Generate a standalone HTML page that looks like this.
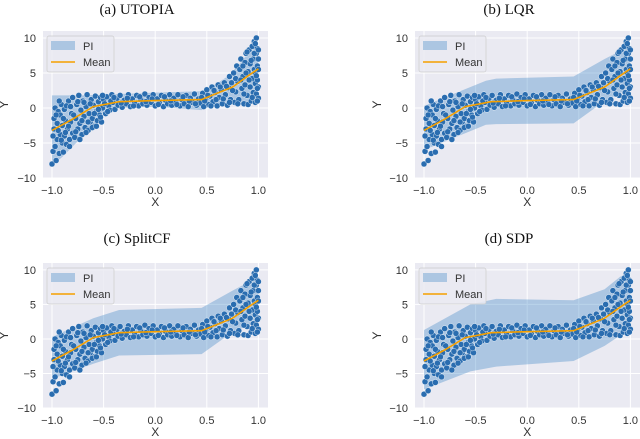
<!DOCTYPE html>
<html><head><meta charset="utf-8">
<style>
html,body{margin:0;padding:0;background:#fff;width:640px;height:439px;overflow:hidden}
svg{display:block}
.tk{font-family:"Liberation Sans",sans-serif;font-size:11px;fill:#333}
.ttl{font-family:"Liberation Serif",serif;font-size:15px;fill:#111}
</style></head>
<body>
<svg id="fig" width="640" height="439" viewBox="0 0 640 439" xmlns="http://www.w3.org/2000/svg"></svg>
<script>
// shared scatter data
const scatterX=[-1,-0.99,-0.98,-0.98,-0.97,-0.96,-0.95,-0.95,-0.94,-0.93,-0.92,-0.92,-0.91,-0.9,-0.9,-0.89,-0.88,-0.88,-0.87,-0.86,-0.85,-0.84,-0.83,-0.82,-0.81,-0.8,-0.8,
-0.78,-0.77,-0.76,-0.75,-0.74,-0.73,-0.72,-0.71,-0.7,-0.69,-0.68,-0.67,-0.66,-0.65,-0.64,-0.63,-0.62,-0.61,-0.6,-0.59,-0.58,-0.57,-0.56,-0.55,-0.54,-0.53,-0.52,-0.51,-0.5,
-0.48,-0.47,-0.45,-0.44,-0.42,-0.41,-0.39,-0.37,-0.36,-0.34,-0.32,-0.3,-0.28,-0.26,-0.24,-0.22,-0.2,-0.18,-0.16,-0.14,-0.12,-0.1,-0.08,-0.06,-0.04,-0.02,0,0.02,0.04,0.06,0.08,0.1,0.12,0.14,0.16,0.18,0.2,0.22,0.24,0.26,0.28,0.3,0.32,0.34,0.36,0.38,0.4,0.42,0.44,
0.46,0.47,0.49,0.5,0.52,0.53,0.55,0.56,0.58,0.6,0.61,0.62,0.64,0.65,0.67,0.68,0.7,0.71,0.72,0.73,0.74,
0.76,0.77,0.78,0.79,0.8,0.81,0.82,0.83,0.84,0.85,0.86,0.87,0.87,0.88,0.89,0.9,0.9,0.91,0.92,0.92,0.93,0.94,0.94,0.95,0.95,0.96,0.96,0.97,0.97,0.98,0.98,0.98,0.99,0.99,1,1,1,0.99,
-0.99,-0.97,-0.96,-0.94,-0.93,-0.91,-0.89,-0.87,-0.86,-0.84,-0.83,-0.82,-0.79,-0.77,-0.75,-0.73,-0.71,-0.69,-0.67,-0.65,-0.63,-0.61,-0.59,-0.57,-0.55,-0.53,-0.51,-0.49,-0.46,-0.43,
-0.4,-0.33,-0.27,-0.21,-0.15,-0.09,-0.03,0.03,0.09,0.15,0.21,0.27,0.33,0.39,0.45,
0.48,0.51,0.54,0.57,0.59,0.63,0.66,0.69,0.72,0.75,0.78,0.8,0.83,0.85,0.86,0.88,0.89,0.91,0.93,0.94,0.96,0.97,0.98,0.99,1,1,0.97,0.99];
const scatterY=[-8,-6.2,-3,-1.5,0,-7.5,-4.5,-2.2,-0.5,-6.5,-3.8,-1,0.5,-5,-2.5,-6.3,-4,-0.2,-1.8,-5.2,-3,1,-4.5,-2,-0.8,-3.6,1.5,
-4.2,-1.5,0.5,-3,1.8,-2.2,-0.3,-3.8,1,-1.2,-2.8,0.2,1.9,-3.2,-0.8,-2,1.2,-1.5,0.4,-2.6,1.7,-0.5,-1.8,0.9,-1,1.5,-2,0,1.2,
-0.8,1.6,0.3,-0.3,1.9,0.8,-0.2,1.4,0.4,1.8,0.1,1.1,0.6,1.9,0.2,1.3,0.7,1.8,0.3,1.2,0.6,2,0.4,1.5,0.8,1.9,0.3,1.3,0.7,1.8,0.2,1.1,0.6,1.9,0.4,1.4,0.8,1.9,0.3,1.2,0.6,1.8,0.2,1.4,0.8,2,0.4,1.3,0.7,
2.1,0.2,1.3,2.6,0.5,1.7,3,0.9,2.2,0.3,3.3,1.5,2.6,0.6,3.6,1.9,0.4,2.9,4.5,1.2,3.6,
5,0.8,2.3,6,3.8,1.2,5.5,7,2.8,4.5,0.6,6.5,3.3,7.8,1.8,5.2,0.5,8.3,3,6.3,1,8.8,4.2,7,2.2,9.5,5.5,0.8,3.5,10,7.8,2,6,4,1.4,7,3,8.5,
-4,-5.5,-1,-3.2,1,-4.6,-1.5,-3.5,0.3,-2.6,-5.5,0.2,-1,-3.4,0.9,-4.5,-1.8,0.8,-3.5,-2,0.6,-2.8,-0.8,-2.6,-0.2,-1.3,1.8,0.6,-0.5,1,
1.5,0.7,1.4,0.3,1.6,0.9,1.3,0.5,1.6,1,0.5,1.6,1,0.6,1.5,
1,1.8,0.3,2.5,1.2,3,1.3,3.1,0.8,2.5,4.2,0.6,4,6,2,5,8,4,6.8,1.5,7.8,5,4.6,2.8,5.5,8.3,9.2,1];
// mean line (shared shape)
const meanX=[-1,-0.8,-0.6,-0.35,0,0.45,0.6,0.75,0.9,1];
const meanY=[-3.2,-1.6,0.2,0.9,1.05,1.2,2.1,3,4.6,5.6];
// PI bands
const bandX_a=[-1,-0.9,-0.8,-0.7,-0.5,-0.35,0,0.45,0.5,0.6,0.7,0.8,0.9,0.95,1];
const bandLo_a=[-8.2,-7,-5.5,-4,-1,0,0.2,-0.3,0,0.3,0.5,0.6,0.5,0.8,1.5];
const bandHi_a=[1.8,1.8,1.8,1.8,1.9,2,2.2,2.4,2.8,3.5,4.5,6,7.8,9,8];
const bandX_b=[-1,-0.75,-0.4,-0.3,0.45,0.75,0.95,1];
const bandLo_b=[-6,-4.5,-2.4,-2.3,-2.2,1,2.5,3];
const bandHi_b=[0.3,1.8,3.9,4.2,4.5,7,8.5,8];
const bandX_c=[-1,-0.6,-0.35,0.45,0.75,1];
const bandLo_c=[-5.8,-3.6,-2.4,-2.2,1,2.5];
const bandHi_c=[0.3,3,4.2,4.5,7,9];
const bandX_d=[-1,-0.55,-0.3,0.45,0.75,0.9,1];
const bandLo_d=[-7.3,-4.7,-4,-3.2,-1,0.5,1];
const bandHi_d=[1.3,5,5.8,5.6,7.2,9,9.8];
const xTicks=[-1,-0.5,0,0.5,1];
const xTickLabels=["−1.0","−0.5","0.0","0.5","1.0"];
const yTicks=[-10,-5,0,5,10];
const yTickLabels=["−10","−5","0","5","10"];

const panels=[
 {id:"a",title:"(a) UTOPIA",bx:bandX_a,lo:bandLo_a,hi:bandHi_a,L:43,R:268,T:31,B:178,x0:52,title_x:137,title_y:14,ylab_x:4},
 {id:"b",title:"(b) LQR",bx:bandX_b,lo:bandLo_b,hi:bandHi_b,L:415,R:640,T:31,B:178,x0:424,title_x:509,title_y:14,ylab_x:377},
 {id:"c",title:"(c) SplitCF",bx:bandX_c,lo:bandLo_c,hi:bandHi_c,L:43,R:268,T:263,B:408,x0:52,title_x:137,title_y:243,ylab_x:4},
 {id:"d",title:"(d) SDP",bx:bandX_d,lo:bandLo_d,hi:bandHi_d,L:415,R:640,T:263,B:408,x0:424,title_x:509,title_y:243,ylab_x:377}
];
const NS="http://www.w3.org/2000/svg";
const fig=document.getElementById('fig');
function mk(tag,attrs,parent){const e=document.createElementNS(NS,tag);for(const k in attrs)e.setAttribute(k,attrs[k]);(parent||fig).appendChild(e);return e;}
panels.forEach(p=>{
  const g=mk('g',{});
  
  
  const xs=x=>p.x0+(x+1)*103.2;
  const ys=y=>p.B-(y+10)*(p.B-p.T)/21;
  const bg=mk('rect',{x:p.L,y:p.T,width:p.R-p.L,height:p.B-p.T,fill:'#eaeaf2'},g);
  
  
  xTicks.forEach((t,i)=>{
    const l=mk('line',{x1:xs(t),x2:xs(t),y1:p.T,y2:p.B,stroke:'#fff','stroke-width':1},g);
    
    
    const tx=mk('text',{x:xs(t),y:p.B+16,'text-anchor':'middle',class:'tk'},g);
    tx.textContent=xTickLabels[i];
    
    
  });
  yTicks.forEach((t,i)=>{
    const l=mk('line',{x1:p.L,x2:p.R,y1:ys(t),y2:ys(t),stroke:'#fff','stroke-width':1},g);
    
    
    const tx=mk('text',{x:p.L-7,y:ys(t)+4,'text-anchor':'end',class:'tk'},g);
    tx.textContent=yTickLabels[i];
    
    
  });
  let d='';
  p.bx.forEach((x,i)=>{d+=(i?'L':'M')+xs(x).toFixed(1)+','+ys(p.hi[i]).toFixed(1);});
  for(let i=p.bx.length-1;i>=0;i--)d+='L'+xs(p.bx[i]).toFixed(1)+','+ys(p.lo[i]).toFixed(1);
  const band=mk('path',{d:d+'Z',fill:'rgba(70,140,200,0.38)',stroke:'none'},g);
  
  
  const sg=mk('g',{},g);
  
  
  scatterX.forEach((x,i)=>{
    const c=mk('circle',{cx:xs(x),cy:ys(scatterY[i]),r:3,fill:'#2a6db0',stroke:'#fff','stroke-width':0.4},sg);
    
    
  });
  let md='';
  meanX.forEach((x,i)=>{md+=(i?'L':'M')+xs(x).toFixed(1)+','+ys(meanY[i]).toFixed(1);});
  const ml=mk('path',{d:md,fill:'none',stroke:'#f5a000','stroke-width':1.6},g);
  
  
  const lg=mk('g',{},g);
  
  
  const lx=p.L+4,ly=p.T+5;
  mk('rect',{x:lx,y:ly,width:67,height:36,rx:2,fill:'rgba(234,234,242,0.85)',stroke:'#ccc','stroke-width':0.7},lg);
  const sw=mk('rect',{x:lx+4,y:ly+5,width:24,height:9,fill:'rgba(70,140,200,0.38)'},lg);
  
  
  const t1=mk('text',{x:lx+36,y:ly+14,class:'tk'},lg);t1.textContent='PI';
  
  
  const sl=mk('line',{x1:lx+4,x2:lx+28,y1:ly+26,y2:ly+26,stroke:'#f5a000','stroke-width':1.6},lg);
  
  
  const t2=mk('text',{x:lx+36,y:ly+30,class:'tk'},lg);t2.textContent='Mean';
  
  
  const xl=mk('text',{x:(xs(-1)+xs(1))/2,y:p.B+28,'text-anchor':'middle',class:'tk'},g);
  xl.textContent='X';xl.style.fontSize='12px';
  
  
  const yl=mk('text',{x:0,y:0,'text-anchor':'middle',class:'tk',transform:'translate('+(p.ylab_x+4)+','+((p.T+p.B)/2)+') rotate(-90)'},g);
  yl.textContent='Y';yl.style.fontSize='12px';
  
  
  const tt=mk('text',{x:p.title_x,y:p.title_y,'text-anchor':'middle',class:'ttl'},g);
  tt.textContent=p.title;
  
  
});
</script>
</body></html>
